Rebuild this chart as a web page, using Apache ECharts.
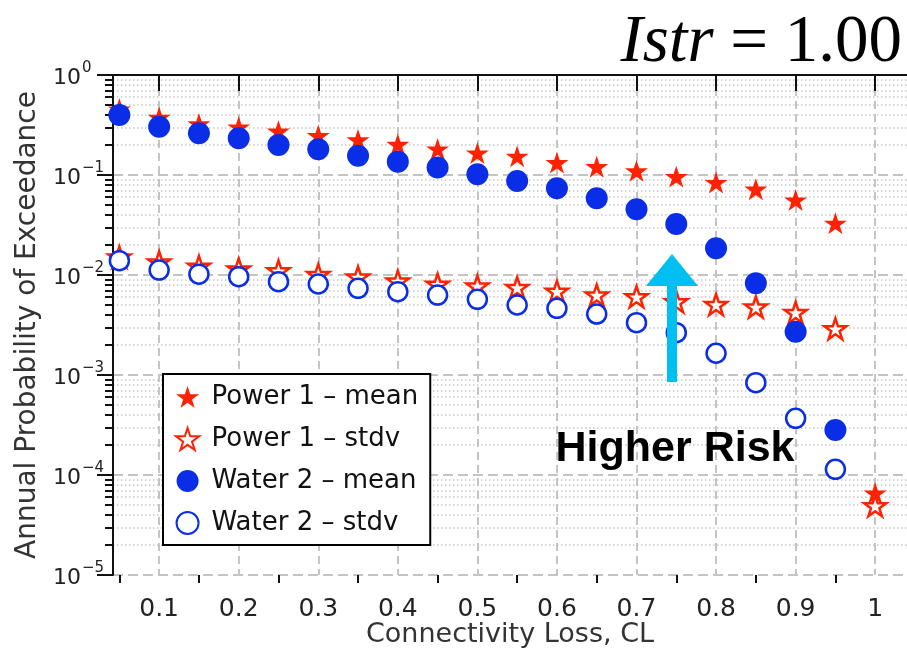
<!DOCTYPE html>
<html><head><meta charset="utf-8">
<script src="https://cdn.jsdelivr.net/npm/echarts@6/dist/echarts.min.js"></script>
<style>html,body{margin:0;padding:0;background:#fff}#c{width:907px;height:652px}</style>
</head><body><div id="c"></div>
<script>
// ---- data ----
const cl = [0.05,0.1,0.15,0.2,0.25,0.3,0.35,0.4,0.45,0.5,0.55,0.6,0.65,0.7,0.75,0.8,0.85,0.9,0.95,1.0];
const power1Mean = [0.457,0.376,0.324,0.302,0.275,0.248,0.224,0.202,0.182,0.166,0.154,0.133,0.121,0.110,0.0962,0.0841,0.0721,0.0562,0.0329,6.6e-5];
const power1Stdv = [0.0151,0.0135,0.0122,0.0115,0.0110,0.0101,0.00955,0.0087,0.0081,0.00776,0.0075,0.00687,0.0063,0.00607,0.00541,0.00507,0.00479,0.00422,0.0029,4.92e-5];
const water2Mean = [0.398,0.304,0.261,0.233,0.200,0.181,0.156,0.136,0.119,0.1016,0.0871,0.0736,0.0585,0.0454,0.0324,0.0185,0.00826,0.00271,2.82e-4,null];
const water2Stdv = [0.0139,0.0112,0.0102,0.00962,0.00858,0.00813,0.00736,0.00681,0.0063,0.00571,0.00501,0.00464,0.00407,0.00334,0.00265,0.00165,8.38e-4,3.69e-4,1.14e-4,null];
const seriesNames = ['Power 1 \u2013 mean','Power 1 \u2013 stdv','Water 2 \u2013 mean','Water 2 \u2013 stdv'];
const xTickValues = [0.1,0.2,0.3,0.4,0.5,0.6,0.7,0.8,0.9,1];
const xMinorTickValues = [0.05,0.15,0.25,0.35,0.45,0.55,0.65,0.75,0.85,0.95];
const yMin = 1e-5, yMax = 1;
const yMinorMultipliers = [2,3,4,5,6,7,8,9];
const xMin = 0.042, xMax = 1.04;

// ---- helpers ----
const pairs = arr => cl.map((x,i)=>[x,arr[i]]).filter(p=>p[1]!=null);
const yMinorLog = [];
for (let e=-5;e<0;e++) yMinorMultipliers.forEach(m=>yMinorLog.push(Math.log10(m)+e));
const STAR = 'path://M50,0L61.8,36.2L100,36.2L69.1,58.8L80.9,95.1L50,72.7L19.1,95.1L30.9,58.8L0,36.2L38.2,36.2Z';
const RED = '#ff2200', BLUE = '#0a2de8';
const FONT = 'DejaVu Sans';

const chart = echarts.init(document.getElementById('c'));
chart.setOption({
  backgroundColor:'#fff',
  animation:false,
  textStyle:{fontFamily:FONT, fontSize:22},
  title:{
    text:'{i|Istr} = 1.00', right:0, top:5,
    textStyle:{fontFamily:'Liberation Serif', fontSize:67, fontWeight:'normal', color:'#000',
      rich:{i:{fontFamily:'Liberation Serif', fontSize:67, fontStyle:'italic', color:'#000'}}}
  },
  grid:{left:113, top:75, width:794, height:500, containLabel:false, outerBoundsMode:'none'},
  legend:{
    orient:'vertical', left:163, top:374, data:seriesNames,
    itemWidth:38, itemHeight:22, itemGap:16,
    padding:[10,12,9,12], borderColor:'#000', borderWidth:2, backgroundColor:'#fff',
    textStyle:{fontFamily:FONT, fontSize:26, color:'#111'}
  },
  xAxis:[
    {type:'value', min:xMin, max:xMax, position:'bottom',
     axisLine:{lineStyle:{color:'#111', width:2}},
     axisTick:{customValues:xTickValues, length:16, lineStyle:{color:'#111', width:2}},
     axisLabel:{customValues:xTickValues, margin:22, fontFamily:FONT, fontSize:25, color:'#222',
       formatter:v=>'{a|'+String(+(+v).toFixed(2))+'}',
       rich:{a:{fontFamily:FONT, fontSize:25, color:'#222'}}},
     splitLine:{show:true, lineStyle:{color:'#c4c4c4', width:2, type:[8,5]}},
     name:'Connectivity Loss, CL', nameLocation:'middle', nameGap:46, nameMoveOverlap:false,
     nameTextStyle:{fontFamily:FONT, fontSize:27, color:'#333'}},
    {type:'value', min:xMin, max:xMax, position:'bottom',
     axisLine:{show:false},
     axisTick:{customValues:xMinorTickValues, length:8, lineStyle:{color:'#111', width:2}},
     axisLabel:{show:false}, splitLine:{show:false}}
  ],
  yAxis:[
    {type:'log', logBase:10, min:yMin, max:yMax, position:'left',
     axisLine:{show:true, lineStyle:{color:'#111', width:2}},
     axisTick:{show:true, length:16, lineStyle:{color:'#111', width:2}},
     axisLabel:{margin:60, align:'left', fontFamily:FONT, fontSize:22, color:'#222',
       formatter:v=>{const e=Math.round(Math.log10(v));return '{b|10}{s|'+(e<0?'\u2212'+(-e):e)+'}';},
       rich:{b:{fontFamily:FONT, fontSize:22, color:'#222', padding:[6,0,0,0]},
             s:{fontFamily:FONT, fontSize:15, color:'#222', padding:[0,0,14,1]}}},
     splitLine:{show:true, lineStyle:{color:'#c4c4c4', width:2, type:[10,5]}},
     name:'Annual Probability of Exceedance', nameLocation:'middle', nameGap:71, nameRotate:90, nameMoveOverlap:false,
     nameTextStyle:{fontFamily:FONT, fontSize:28, color:'#333'}},
    {type:'value', min:-5, max:0, position:'left',
     axisLine:{show:false},
     axisTick:{customValues:yMinorLog, length:8, lineStyle:{color:'#111', width:2}},
     axisLabel:{show:false},
     splitLine:{show:true, lineStyle:{color:'#c8c8c8', width:1.5, type:[1.5,2.5]}}}
  ],
  series:[
    {name:seriesNames[0], type:'scatter', xAxisIndex:0, yAxisIndex:0, data:pairs(power1Mean),
     symbol:STAR, symbolSize:23, symbolKeepAspect:true, itemStyle:{color:RED, opacity:1}},
    {name:seriesNames[1], type:'scatter', xAxisIndex:0, yAxisIndex:0, data:pairs(power1Stdv),
     symbol:STAR, symbolSize:22, symbolKeepAspect:true, itemStyle:{color:'#fff', borderColor:RED, borderWidth:2.5, opacity:1}},
    {name:seriesNames[2], type:'scatter', xAxisIndex:0, yAxisIndex:0, data:pairs(water2Mean),
     symbol:'circle', symbolSize:22, itemStyle:{color:BLUE, opacity:1}},
    {name:seriesNames[3], type:'scatter', xAxisIndex:0, yAxisIndex:0, data:pairs(water2Stdv),
     symbol:'circle', symbolSize:19, itemStyle:{color:'#fff', borderColor:BLUE, borderWidth:2.5, opacity:1}}
  ],
  graphic:[
    {type:'polygon', z:100, shape:{points:[[672,254],[698,286],[677,286],[677,382],[667,382],[667,286],[646,286]]},
     style:{fill:'#00c0f2'}},
    {type:'text', z:100, x:675, y:449,
     style:{text:'Higher Risk', fontFamily:'Liberation Sans', fontWeight:'bold', fontSize:43, fill:'#000', align:'center', verticalAlign:'middle'}}
  ]
});
</script></body></html>
